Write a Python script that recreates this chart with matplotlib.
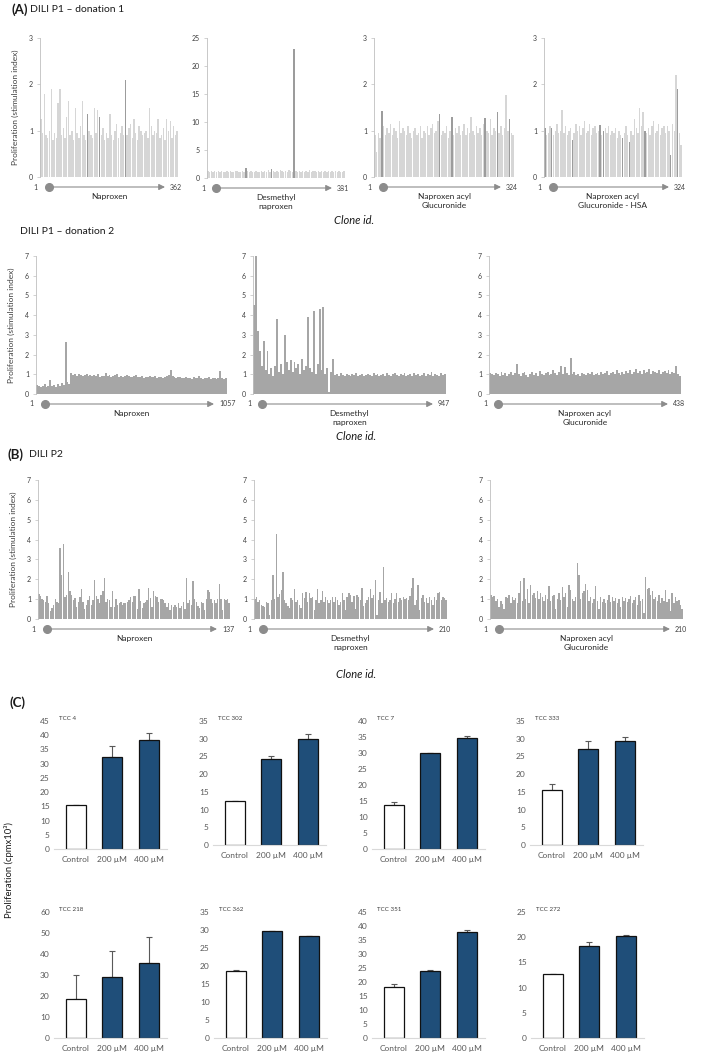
import numpy as np
import matplotlib
matplotlib.use("Agg")
import matplotlib.pyplot as plt

plt.rcParams['font.family'] = ['Lato', 'DejaVu Sans']

# ---- (A) DILI P1 donation 1 : stimulation index per clone ----
d1_naproxen = [1.25, 0.95, 1.8, 0.9, 0.85, 1.0, 1.9, 0.8, 0.95, 0.85,
               1.6, 1.9, 0.9, 1.05, 0.85, 1.3, 1.65, 0.9, 1.0, 0.8,
               1.5, 0.95, 0.85, 1.1, 1.65, 0.9, 0.8, 1.35, 1.0, 0.9,
               0.85, 1.5, 0.95, 1.45, 1.3, 0.9, 1.05, 0.8, 0.95, 0.85,
               1.35, 0.9, 0.8, 1.0, 1.15, 0.85, 0.95, 1.1, 0.9, 2.1,
               0.9, 1.05, 1.15, 0.85, 1.25, 0.95, 0.8, 1.1, 1.0, 0.9,
               0.95, 1.0, 0.85, 1.5, 1.1, 0.9, 1.0, 0.95, 1.25, 0.85,
               0.9, 1.05, 0.8, 1.25, 1.0, 1.2, 0.85, 1.1, 0.9, 1.0]
d1_naproxen_dark = [27, 34, 49]

d1_desmethyl = [1.2, 1.0, 1.3, 1.1, 1.2, 1.0, 1.3, 1.1, 1.2, 1.0,
                1.1, 1.3, 1.0, 1.2, 1.1, 1.0, 1.3, 1.2, 1.1, 1.0,
                1.2, 1.1, 1.7, 1.2, 1.0, 1.3, 1.1, 1.0, 1.2, 1.1,
                1.0, 1.3, 1.1, 1.2, 1.0, 1.4, 1.1, 1.6, 1.2, 1.1,
                1.3, 1.0, 1.5, 1.2, 1.1, 1.3, 1.0, 1.4, 1.2, 1.1,
                23.0, 1.3, 1.1, 1.2, 1.0, 1.3, 1.1, 1.2, 1.0, 1.4,
                1.1, 1.2, 1.3, 1.0, 1.2, 1.1, 1.3, 1.0, 1.2, 1.1,
                1.3, 1.0, 1.2, 1.1, 1.3, 1.0, 1.2, 1.1, 1.0, 1.2]
d1_desmethyl_dark = [22, 37, 50]

d1_nag = [0.9, 0.55, 0.95, 0.85, 1.42, 1.1, 0.9, 1.05, 0.95, 1.15,
          0.9, 1.05, 1.0, 0.85, 1.2, 0.95, 1.05, 1.0, 0.9, 1.1,
          0.95, 0.85, 1.0, 1.05, 0.9, 0.95, 1.1, 0.85, 1.0, 0.95,
          1.1, 0.9, 1.05, 1.15, 0.95, 1.0, 1.2, 1.37, 0.9, 1.0,
          0.95, 1.1, 0.85, 1.0, 1.3, 0.9, 1.05, 0.95, 1.1, 0.9,
          1.0, 1.15, 0.9, 1.05, 0.95, 1.3, 1.0, 0.9, 1.1, 0.95,
          1.05, 0.9, 1.15, 1.28, 1.0, 0.95, 1.25, 0.9, 1.05, 1.0,
          1.4, 0.95, 1.1, 0.9, 1.05, 1.77, 1.0, 1.25, 0.95, 0.9]
d1_nag_dark = [4, 37, 44, 63, 70, 77]

d1_nag_hsa = [1.05, 0.9, 0.95, 1.1, 1.05, 0.9, 1.0, 1.15, 0.95, 1.0,
              1.45, 0.95, 1.1, 0.9, 1.0, 1.05, 0.8, 0.95, 1.15, 1.0,
              1.1, 0.9, 1.05, 1.2, 0.95, 1.0, 1.15, 0.9, 1.05, 1.1,
              0.95, 1.0, 1.12, 0.9, 1.0, 1.05, 0.95, 1.1, 0.9, 1.0,
              0.95, 1.05, 0.85, 1.0, 0.9, 0.85, 0.95, 1.1, 0.9, 0.76,
              1.0, 0.9, 1.25, 1.05, 0.95, 1.5, 1.1, 1.4, 1.0, 0.95,
              1.05, 0.9, 1.1, 1.2, 0.95, 1.0, 1.15, 0.9, 1.05, 1.1,
              0.95, 1.1, 1.0, 0.48, 1.15, 1.0, 2.2, 1.9, 0.95, 0.7]
d1_nag_hsa_dark = [0, 4, 16, 32, 34, 45, 49, 58, 73, 77]

# ---- DILI P1 donation 2 ----
d2_naproxen = [0.45, 0.4, 0.35, 0.4, 0.5, 0.38, 0.42, 0.7, 0.4, 0.45,
               0.38, 0.5, 0.42, 0.55, 0.45, 2.65, 0.6, 0.5,
               1.05, 0.95, 1.0, 0.9, 1.0, 0.95, 0.9, 0.95, 1.0, 0.9, 0.95, 0.9,
               0.95, 0.9, 1.0, 0.88, 0.92, 0.9, 1.05, 0.9, 0.95, 0.85,
               0.9, 0.95, 1.0, 0.88, 0.9, 0.85, 0.92, 0.95, 0.9, 0.88,
               0.85, 0.9, 0.95, 0.88, 0.85, 0.9, 0.82, 0.88, 0.85, 0.9,
               0.85, 0.88, 0.9, 0.82, 0.85, 0.88, 0.8, 0.85, 0.9, 0.95,
               1.2, 0.9, 0.85, 0.82, 0.88, 0.85, 0.8, 0.82, 0.85, 0.8,
               0.82, 0.78, 0.85, 0.8, 0.82, 0.9, 0.8, 0.78, 0.82, 0.8,
               0.85, 0.78, 0.8, 0.82, 0.78, 0.8, 1.15, 0.82, 0.78, 0.8]

d2_desmethyl = [4.5, 7.0, 3.2, 2.2, 1.4, 2.7, 1.2, 2.2, 1.0, 1.3,
                0.9, 1.4, 3.8, 1.1, 1.5, 1.0, 3.0, 1.6, 1.2, 1.7,
                1.1, 1.6, 1.3, 1.5, 1.0, 1.8, 1.2, 1.4, 3.9, 1.3,
                1.1, 4.2, 1.0, 1.5, 4.3, 1.2, 4.4, 1.0, 1.3, 0.1,
                1.1, 1.8, 0.95, 1.0, 0.9, 1.05, 0.95, 0.9, 1.0, 0.95,
                0.9, 1.0, 0.95, 1.05, 0.9, 0.95, 1.0, 0.9, 0.95, 1.0,
                0.95, 0.9, 1.05, 0.95, 1.0, 0.9, 0.95, 1.0, 0.92, 1.05,
                0.95, 0.9, 1.0, 1.08, 0.95, 0.9, 1.0, 0.95, 1.05, 0.9,
                0.95, 1.0, 0.9, 1.05, 0.95, 1.0, 0.92, 0.95, 1.05, 0.9,
                1.0, 0.95, 1.1, 0.92, 1.0, 0.95, 0.9, 1.05, 0.95, 1.0]

d2_nag = [1.05, 1.0, 0.95, 1.05, 1.0, 0.9, 1.1, 0.95, 1.05, 0.9,
          1.0, 1.1, 0.95, 1.05, 1.5, 1.0, 0.9, 1.05, 1.1, 0.95,
          0.85, 1.0, 1.1, 0.95, 1.05, 0.9, 1.15, 1.0, 0.95, 1.05,
          1.1, 0.95, 1.0, 1.2, 1.05, 0.95, 1.1, 1.4, 1.0, 1.35,
          1.05, 0.95, 1.85, 1.0, 1.1, 0.95, 1.0, 0.9, 1.05, 1.0,
          0.95, 1.05, 1.0, 1.1, 0.95, 1.0, 1.05, 0.95, 1.1, 1.0,
          1.05, 1.15, 0.95, 1.05, 1.1, 1.0, 1.2, 1.05, 0.95, 1.1,
          1.0, 1.15, 1.05, 1.2, 1.0, 1.1, 1.25, 1.05, 1.15, 1.0,
          1.2, 1.05, 1.1, 1.25, 1.0, 1.15, 1.1, 1.05, 1.2, 1.0,
          1.1, 1.15, 1.05, 1.2, 1.0, 1.1, 1.05, 1.4, 1.0, 0.9]

# ---- (B) DILI P2 ----
p2_naproxen = [1.25, 1.15, 1.03, 0.95, 0.87, 1.15, 0.8, 0.38, 0.55, 0.7,
               1.03, 0.87, 0.8, 3.6, 2.2, 3.8, 1.1, 1.2, 2.38, 1.4,
               1.2, 0.95, 1.08, 0.6, 0.87, 1.1, 1.5, 0.87, 0.5, 0.7,
               0.95, 1.15, 0.7, 0.95, 1.97, 1.15, 1.03, 0.82, 1.2, 1.4,
               2.07, 0.87, 1.03, 0.98, 0.62, 1.4, 0.62, 1.03, 0.7, 0.8,
               0.87, 0.7, 0.82, 0.8, 0.87, 0.95, 1.1, 0.87, 1.15, 1.15,
               0.5, 1.52, 0.92, 0.55, 0.8, 0.87, 0.95, 1.55, 1.08, 0.6,
               1.4, 1.15, 1.1, 0.87, 1.0, 1.03, 0.95, 0.8, 0.62, 0.82,
               0.46, 0.7, 0.6, 0.7, 0.62, 0.8, 0.55, 0.66, 0.87, 0.5,
               2.07, 0.8, 0.95, 0.7, 1.89, 1.03, 0.87, 0.66, 0.55, 0.87,
               0.8, 0.46, 1.03, 1.48, 1.36, 1.03, 0.8, 0.95, 0.8, 1.03,
               1.74, 1.03, 0.46, 1.03, 0.95, 1.03, 0.8]

p2_desmethyl = [1.0, 1.13, 0.88, 0.97, 0.72, 0.67, 0.6, 0.88, 0.8, 0.2,
                0.97, 2.2, 1.0, 4.3, 1.13, 1.27, 1.47, 2.38, 0.97, 0.8,
                0.67, 0.55, 1.05, 0.97, 1.52, 0.88, 0.97, 0.72, 0.55, 1.3,
                1.05, 1.35, 0.88, 1.33, 1.05, 1.1, 0.47, 0.97, 1.52, 0.8,
                0.97, 1.42, 0.88, 1.13, 0.97, 0.8, 0.97, 1.13, 0.88, 1.13,
                0.97, 0.72, 0.88, 1.33, 0.97, 0.47, 1.13, 1.3, 1.22, 0.88,
                1.17, 0.5, 1.22, 1.13, 0.97, 1.55, 0.63, 0.8, 0.97, 1.1,
                1.5, 1.05, 1.22, 1.97, 0.2, 0.97, 1.38, 0.8, 2.63, 0.97,
                1.05, 0.88, 0.97, 1.33, 0.8, 1.0, 1.3, 0.88, 1.05, 0.97,
                1.1, 1.02, 1.05, 0.97, 1.17, 1.55, 2.05, 0.72, 0.97, 1.72,
                0.47, 1.05, 1.22, 0.88, 1.05, 0.8, 1.13, 0.97, 0.72, 1.13,
                0.97, 1.3, 1.38, 0.97, 1.1, 1.05, 0.97]

p2_nag = [1.2, 1.1, 1.15, 0.9, 1.0, 0.6, 0.9, 0.75, 0.5, 1.1,
          1.05, 1.2, 0.8, 1.1, 0.95, 1.05, 0.8, 1.3, 1.9, 0.9,
          2.05, 1.0, 1.5, 0.8, 1.7, 1.2, 1.3, 1.05, 1.4, 1.0,
          1.3, 1.1, 0.9, 1.2, 1.0, 1.65, 0.9, 1.15, 1.2, 0.5,
          1.0, 1.3, 0.95, 1.6, 1.1, 1.3, 0.6, 1.7, 1.45, 1.0,
          0.9, 1.1, 2.8, 2.2, 1.0, 1.3, 1.4, 1.75, 1.45, 0.9,
          1.1, 0.8, 1.0, 1.65, 0.9, 0.5, 1.1, 0.85, 1.0, 0.8,
          0.95, 1.2, 0.85, 1.1, 0.9, 1.05, 0.8, 1.0, 0.6, 1.1,
          0.9, 1.05, 0.85, 1.0, 1.15, 0.8, 0.95, 1.1, 0.7, 1.2,
          0.9, 1.0, 0.3, 2.1, 1.5, 1.55, 1.2, 1.4, 1.0, 1.1,
          0.9, 1.2, 0.8, 1.05, 0.9, 1.45, 0.85, 1.0, 0.4, 1.3,
          0.8, 1.1, 0.9, 0.95, 0.7, 0.5]

# ---- (C) proliferation of clones (cpm x10^3) ----
tcc_names = ["TCC 4", "TCC 302", "TCC 7", "TCC 333",
             "TCC 218", "TCC 362", "TCC 351", "TCC 272"]
conditions = ["Control", "200 µM", "400 µM"]
tcc_means = [[15.3, 32.3, 38.2], [12.3, 24.3, 29.8], [13.9, 29.9, 34.8], [15.4, 27.1, 29.3],
             [18.6, 28.9, 35.9], [18.6, 29.6, 28.3], [18.2, 24.0, 38.0], [12.6, 18.3, 20.3]]
tcc_errs = [[0.2, 4.0, 2.5], [0.1, 0.8, 1.5], [0.9, 0.1, 0.6], [1.7, 2.2, 1.2],
            [11.2, 12.3, 12.3], [0.4, 0.1, 0.1], [1.1, 0.4, 0.6], [0.1, 0.7, 0.1]]
tcc_ymax = [45, 35, 40, 35, 60, 35, 45, 25]
tcc_step = [5, 5, 5, 5, 10, 5, 5, 5]

W, H = 709, 1064
fig = plt.figure(figsize=(W / 100, H / 100), dpi=100)

LIGHT = '#D6D6D6'
DARK = '#9C9C9C'
MID = '#A6A6A6'
AX = '#BFBFBF'
TXT = '#404040'
NAVY = '#1F4E79'


def px_axes(x0, y0, x1, y1):
    return fig.add_axes([x0 / W, 1 - y1 / H, (x1 - x0) / W, (y1 - y0) / H])


def ftext(x, y, s, **kw):
    fig.text(x / W, 1 - y / H, s, **kw)


def clone_panel(rect, vals, n_clones, name, ymax, yticks, color, dark=(), width=0.8, ylabel=False):
    ax = px_axes(*rect)
    vals = np.asarray(vals)
    x = np.arange(len(vals))
    cols = [color] * len(vals)
    for i in dark:
        cols[i] = DARK
    ax.bar(x, vals, width=width, color=cols, linewidth=0)
    ax.set_xlim(-0.5, len(vals) - 0.5)
    ax.set_ylim(0, ymax)
    ax.set_yticks(yticks)
    ax.set_xticks([])
    for s in ['top', 'right', 'bottom']:
        ax.spines[s].set_visible(False)
    ax.spines['left'].set_color(AX)
    ax.spines['left'].set_linewidth(0.6)
    ax.tick_params(axis='y', length=2, width=0.5, color=AX, labelsize=5, labelcolor=TXT, pad=3)
    if ylabel:
        ax.set_ylabel('Proliferation (stimulation index)', fontsize=6, color=TXT, labelpad=7)
    wpx = rect[2] - rect[0]
    hpx = rect[3] - rect[1]
    ya = -10 / hpx
    x0 = 9 / wpx
    tip = 1 - 13 / wpx
    ax.annotate('', xy=(tip, ya), xytext=(x0, ya), xycoords='axes fraction',
                arrowprops=dict(arrowstyle='-|>', color='#8C8C8C', lw=0.8, mutation_scale=9,
                                shrinkA=0, shrinkB=0))
    ax.plot([x0], [ya], 'o', ms=5.5, color='#8C8C8C', transform=ax.transAxes, clip_on=False)
    ax.text(-2 / wpx, ya, '1', transform=ax.transAxes, ha='right', va='center', fontsize=5, color=TXT)
    ax.text(tip + 5 / wpx, ya, str(n_clones), transform=ax.transAxes, ha='left', va='center',
            fontsize=5, color=TXT)
    ax.text(0.5, -16 / hpx, name, transform=ax.transAxes, ha='center', va='top', fontsize=6,
            color='#262626', linespacing=1.3)
    return ax


# (A) donation 1
ftext(11, 10, '(A)', fontsize=9.5, fontweight='bold', va='center', color='#1a1a1a')
ftext(30, 10, 'DILI P1 – donation 1', fontsize=7.5, va='center', color='#1a1a1a')
r1 = [(40, 38, 178, 177), (207, 38, 345, 178), (374, 38, 514, 177), (544, 38, 682, 177)]
clone_panel(r1[0], d1_naproxen, 362, 'Naproxen', 3, [0, 1, 2, 3], LIGHT, d1_naproxen_dark, ylabel=True)
clone_panel(r1[1], d1_desmethyl, 381, 'Desmethyl\nnaproxen', 25, [0, 5, 10, 15, 20, 25], LIGHT, d1_desmethyl_dark)
clone_panel(r1[2], d1_nag, 324, 'Naproxen acyl\nGlucuronide', 3, [0, 1, 2, 3], LIGHT, d1_nag_dark)
clone_panel(r1[3], d1_nag_hsa, 324, 'Naproxen acyl\nGlucuronide - HSA', 3, [0, 1, 2, 3], LIGHT, d1_nag_hsa_dark)
ftext(354, 220, 'Clone id.', fontsize=8, style='italic', ha='center', va='center', color='#1a1a1a')

# donation 2
ftext(20, 231, 'DILI P1 – donation 2', fontsize=7.5, va='center', color='#1a1a1a')
r2 = [(36, 256, 227, 394), (253, 256, 446, 394), (489, 256, 681, 394)]
sev = list(range(8))
clone_panel(r2[0], d2_naproxen, 1057, 'Naproxen', 7, sev, MID, width=1.0, ylabel=True)
clone_panel(r2[1], d2_desmethyl, 947, 'Desmethyl\nnaproxen', 7, sev, MID, width=1.0)
clone_panel(r2[2], d2_nag, 438, 'Naproxen acyl\nGlucuronide', 7, sev, MID, width=1.0)
ftext(356, 437, 'Clone id.', fontsize=8, style='italic', ha='center', va='center', color='#1a1a1a')

# (B) DILI P2
ftext(8, 455, '(B)', fontsize=9.5, fontweight='bold', va='center', color='#1a1a1a')
ftext(29, 455, 'DILI P2', fontsize=7.5, va='center', color='#1a1a1a')
r3 = [(38, 480, 230, 619), (254, 480, 447, 619), (490, 480, 683, 619)]
clone_panel(r3[0], p2_naproxen, 137, 'Naproxen', 7, sev, MID, width=0.85, ylabel=True)
clone_panel(r3[1], p2_desmethyl, 210, 'Desmethyl\nnaproxen', 7, sev, MID, width=0.85)
clone_panel(r3[2], p2_nag, 210, 'Naproxen acyl\nGlucuronide', 7, sev, MID, width=0.85)
ftext(356, 674, 'Clone id.', fontsize=8, style='italic', ha='center', va='center', color='#1a1a1a')

# (C) bar charts
ftext(9, 703, '(C)', fontsize=9.5, fontweight='bold', va='center', color='#1a1a1a')
centers = [76, 235, 394, 552, 76, 236, 394, 553]
tops = [721, 721, 721, 721, 912, 912, 912, 912]
bottoms = [849, 845, 849, 845, 1038, 1038, 1038, 1038]
for k in range(8):
    c0 = centers[k]
    ax = px_axes(c0 - 22, tops[k], c0 + 91, bottoms[k])
    x = np.arange(3)
    ax.errorbar(x, tcc_means[k], yerr=[np.zeros(3), tcc_errs[k]], fmt='none', ecolor='#595959',
                elinewidth=0.8, capsize=2.5, capthick=0.8, zorder=1)
    ax.bar(x, tcc_means[k], width=0.55, color=['white', NAVY, NAVY], edgecolor='#111111',
           linewidth=0.9, zorder=2)
    ax.set_xlim(-0.6, 2.5)
    ax.set_ylim(0, tcc_ymax[k])
    ax.set_yticks(np.arange(0, tcc_ymax[k] + 1, tcc_step[k]))
    ax.set_xticks(x)
    ax.set_xticklabels(conditions)
    for s in ['top', 'right', 'left']:
        ax.spines[s].set_visible(False)
    ax.spines['bottom'].set_color('#D9D9D9')
    ax.spines['bottom'].set_linewidth(0.8)
    ax.tick_params(length=0, labelsize=6, labelcolor='#595959', pad=3)
    ax.tick_params(axis='x', pad=5)
    ax.text(5 / 113, 1.0, tcc_names[k], transform=ax.transAxes, fontsize=4.5, color='#404040',
            ha='left', va='bottom')

ftext(9, 870, 'Proliferation (cpmx10³)', fontsize=6.8, rotation=90, ha='center', va='center',
      color='#1a1a1a')

fig.savefig('out.png', dpi=100)
